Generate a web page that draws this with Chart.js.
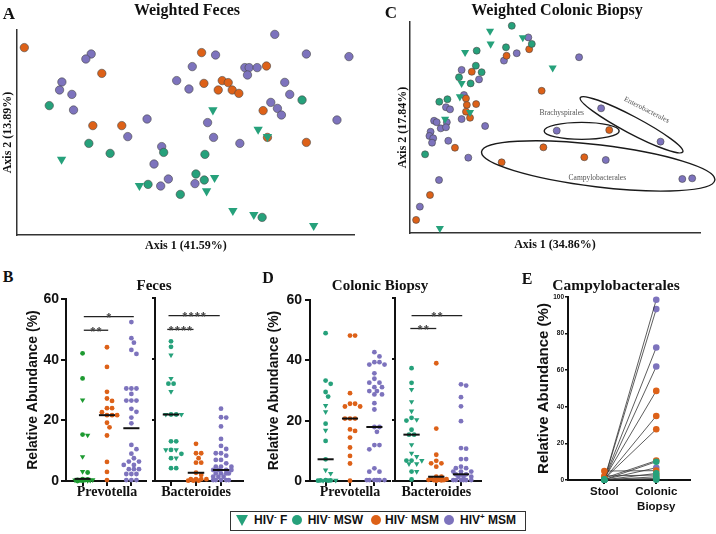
<!DOCTYPE html>
<html><head><meta charset="utf-8">
<script src="https://cdn.jsdelivr.net/npm/chart.js@4.4.1/dist/chart.umd.min.js"></script>
<style>
html,body{margin:0;padding:0;background:#fff;}
#root{position:relative;width:716px;height:534px;overflow:hidden;background:#fff;}
canvas{position:absolute;}
.t{position:absolute;white-space:nowrap;transform:translate(-50%,-50%);color:#111;line-height:1;}
.serif{font-family:"Liberation Serif","Times New Roman",serif;font-weight:bold;}
.sans{font-family:"Liberation Sans",Arial,sans-serif;font-weight:bold;}
#legend{position:absolute;left:230px;top:511px;width:294px;height:18px;border:1.6px solid #333;z-index:5;background:#fff;}
.lt{position:absolute;top:520px;transform:translateY(-50%);font-family:"Liberation Sans",Arial,sans-serif;font-weight:bold;font-size:12px;color:#111;white-space:nowrap;z-index:6;line-height:1;}
.lt sup{font-size:8px;vertical-align:5px;line-height:0;}
.dot{position:absolute;width:10px;height:10px;border-radius:50%;z-index:6;}
.tri{position:absolute;width:0;height:0;border-left:6px solid transparent;border-right:6px solid transparent;z-index:6;}
</style></head><body>
<div id="root">
  <canvas id="cA" width="360" height="255" style="left:0;top:0"></canvas>
  <canvas id="cC" width="356" height="255" style="left:360px;top:0"></canvas>
  <canvas id="cB1" width="150" height="210" style="left:0;top:290px"></canvas>
  <canvas id="cB2" width="100" height="210" style="left:150px;top:290px"></canvas>
  <canvas id="cD1" width="154" height="210" style="left:240px;top:290px"></canvas>
  <canvas id="cD2" width="95" height="210" style="left:390px;top:290px"></canvas>
  <canvas id="cE" width="210" height="230" style="left:490px;top:290px"></canvas>

  <div class="t serif" style="left:9px;top:12.5px;font-size:17px">A</div>
  <div class="t serif" style="left:187px;top:10px;font-size:16px">Weighted Feces</div>
  <div class="t serif" style="left:391px;top:11.5px;font-size:17px">C</div>
  <div class="t serif" style="left:557px;top:10px;font-size:16px">Weighted Colonic Biopsy</div>
  <div class="t serif" style="left:8px;top:277px;font-size:16px">B</div>
  <div class="t serif" style="left:154px;top:285px;font-size:15px">Feces</div>
  <div class="t serif" style="left:268px;top:277.5px;font-size:16px">D</div>
  <div class="t serif" style="left:380px;top:285px;font-size:15px">Colonic Biopsy</div>
  <div class="t serif" style="left:527px;top:278.5px;font-size:16px">E</div>
  <div class="t serif" style="left:616px;top:285px;font-size:15.5px">Campylobacterales</div>

  <div id="legend"></div>
  <div class="tri" style="left:235.7px;top:514.5px;border-top:11px solid #26a17b"></div>
  <div class="lt" style="left:254px">HIV<sup>-</sup> F</div>
  <div class="dot" style="left:291.7px;top:515px;background:#26a17b"></div>
  <div class="lt" style="left:307.7px">HIV<sup>-</sup> MSW</div>
  <div class="dot" style="left:370.7px;top:515px;background:#dd6118"></div>
  <div class="lt" style="left:385px">HIV<sup>-</sup> MSM</div>
  <div class="dot" style="left:443.7px;top:515px;background:#7d73bd"></div>
  <div class="lt" style="left:460px">HIV<sup>+</sup> MSM</div>
</div>
<script>
// ---------------- DATA ----------------
// Panel A: weighted UniFrac PCoA, feces (Axis 1, Axis 2 positions in relative units)
const fecesF   = [[58.9,62.5],[72.5,52.8],[75.3,49.2],[13.4,37.8],[36.8,24.7],[59.4,28.7],[57.0,22.0],[64.9,12.2],[71.2,10.2],[89.2,4.7]];
const fecesMSW = [[9.7,64.7],[85.7,67.5],[21.6,45.8],[28.0,40.8],[44.1,41.3],[56.5,40.3],[53.8,30.5],[56.3,27.5],[39.4,25.3],[49.1,20.3],[73.7,8.8]];
const fecesMSM = [[2.2,93.7],[55.5,91.2],[25.5,80.8],[56.2,75.8],[61.7,77.2],[63.5,76.2],[60.5,72.5],[64.7,72.5],[66.7,70.8],[75.0,84.5],[74.0,62.2],[22.8,54.7],[31.5,54.7],[75.3,48.8],[87.0,46.3]];
const fecesHIV = [[77.5,100.3],[87.0,90.5],[99.8,89.2],[59.7,90.0],[52.7,84.2],[22.3,90.5],[20.7,88.0],[13.5,76.5],[12.8,72.5],[16.5,70.3],[17.0,62.5],[48.0,77.2],[51.7,73.0],[68.5,83.7],[69.8,83.7],[72.2,83.7],[69.3,80.0],[80.5,76.3],[82.0,70.3],[76.3,66.3],[78.3,63.3],[79.5,60.0],[96.2,57.5],[57.3,56.2],[39.1,58.0],[33.3,49.2],[59.1,48.8],[67.0,45.8],[43.5,44.2],[41.2,35.5],[45.5,28.0],[43.2,24.5],[53.5,25.7]];

// Panel C: weighted UniFrac PCoA, colonic biopsy
const biopsyF   = [[27.6,95.7],[27.8,89.6],[38.9,92.6],[19.0,85.6],[17.8,70.9],[17.2,64.6],[20.7,57.2],[12.1,54.0],[49.2,78.3],[10.3,2.2]];
const biopsyMSW = [[35.1,98.2],[33.1,88.0],[42.0,89.6],[23.0,86.4],[22.7,79.3],[24.7,76.2],[16.9,73.8],[20.9,70.9],[12.9,63.4],[10.1,62.2],[5.2,37.3]];
const biopsyMSM = [[33.3,84.0],[41.1,87.1],[21.3,76.4],[19.6,60.7],[22.8,61.1],[19.3,57.5],[20.7,54.6],[19.3,63.8],[15.5,40.4],[45.4,67.4],[46.0,40.6],[68.7,48.8],[60.1,35.9],[31.6,33.5],[6.9,18.0],[2.1,6.2]];
const biopsyHIV = [[40.8,92.7],[36.8,85.2],[32.4,81.7],[17.8,77.3],[23.8,72.8],[18.6,65.4],[12.4,59.6],[13.8,58.6],[17.8,54.0],[8.3,53.2],[9.2,52.5],[12.7,52.5],[10.6,49.6],[12.4,50.1],[25.9,50.7],[7.1,48.0],[6.7,46.0],[8.0,44.9],[7.6,42.8],[13.2,43.7],[20.1,35.7],[58.3,83.3],[65.9,59.1],[50.6,48.5],[86.4,43.3],[67.5,34.6],[10.0,25.1],[3.4,12.5],[93.9,25.6],[97.3,25.9]];
const clusterNames = ['Enterobacterales','Brachyspirales','Campylobacterales'];
const clusterCenters = [[76.4,51.3],[59.2,48.4],[64.9,31.8]];
const clusterLabelPos = [[81.6,58.3],[52.3,56.7],[64.6,26.2]];

// Panels B and D: relative abundance (%)
const groupNames = ['Prevotella','Bacteroides'];
const fecesPrevF   = [26.7,15.1,8.0,3.1,0.4,0.3,0.2,0.1];
const fecesPrevMSW = [42.1,33.8,15.3,2.8,0.6,0.5,0.4,0.3,0.2,0.1,0];
const fecesPrevMSM = [44.1,37.6,29.4,27.2,26.4,24.0,24.0,22.7,21.7,21.7,21.7,19.2,17.7,15.0,6.3,3.0,0.3];
const fecesPrevHIV = [52.4,47.1,45.6,43.2,41.9,30.5,30.5,30.5,28.7,26.5,26.5,26.5,23.8,22.8,20.9,19.0,11.9,10.5,9.0,7.5,6.4,6.4,5.3,5.3,3.9,3.9,3.9,2.3,2.3,2.3,0.3,0.3,0.3];
const fecesBactF   = [41.3,33.6,29.3,21.8,21.8,10.2,10.2,7.5];
const fecesBactMSW = [45.8,44.0,31.9,31.9,21.8,21.8,13.0,13.0,10.2,8.9,7.5,4.2,4.2];
const fecesBactMSM = [12.2,9.1,9.1,7.5,6.0,6.0,2.7,2.0,0.6,0.6,0.6,0.6,0.1,0.1,0.1];
const fecesBactHIV = [23.7,20.9,20.8,17.9,13.8,11.5,10.5,9.1,9.1,8.3,6.9,6.9,5.8,4.7,4.7,4.7,3.6,3.6,3.6,3.6,2.5,2.5,2.5,2.5,1.4,1.4,1.4,0.3,0.3,0.3,0.3,0.3];
const biopsyPrevF   = [25.0,22.9,16.8,3.6,2.5,0.2,0.1];
const biopsyPrevMSW = [49.0,33.3,32.2,29.5,28.0,19.0,13.3,7.2,0.3,0.2,0.2,0.1,0.1];
const biopsyPrevMSM = [48.2,48.2,29.1,25.6,25.6,24.7,24.7,20.7,20.7,20.7,17.1,16.6,14.4,11.1,8.3,5.8,0.1];
const biopsyPrevHIV = [42.7,41.3,39.4,39.4,38.6,38.6,35.7,33.9,32.6,32.6,31.1,31.1,29.8,29.8,28.7,28.7,25.8,23.7,17.9,17.9,16.3,11.9,11.9,10.5,4.2,3.1,3.1,0.3,0.3,0.3,0.3,0.3,0.3];
const biopsyBactF   = [30.0,26.0,22.9,20.1,11.9,9.1,8.0,6.7,5.6,5.6,3.1];
const biopsyBactMSW = [37.0,32.2,20.7,19.8,16.8,15.2,15.2,6.7,6.7,3.1,0.5];
const biopsyBactMSM = [38.6,17.2,8.6,6.6,5.8,5.8,4.7,1.4,1.4,0.8,0.6,0.5,0.4,0.3,0.3,0.2,0.1];
const biopsyBactHIV = [31.7,31.3,27.5,24.5,19.6,10.8,10.6,7.2,7.2,4.7,4.2,4.2,3.1,3.1,3.1,2.2,2.2,2.2,1.4,1.4,1.4,0.3,0.3,0.3,0.3,0.3,0.3];
const mediansFecesPrev  = [0.7,21.7,17.4];
const mediansFecesBact  = [21.8,2.7,3.6];
const mediansBiopsyPrev = [7.2,20.7,17.9];
const mediansBiopsyBact = [15.2,1.4,2.2];
const abundanceTicks = [0,20,40,60];
// significance bars: [from column, to column, height (%), number of stars]
const sigFecesPrev  = [[1.05,3.1,54.2,1],[1.05,2.05,49.7,2]];
const sigFecesBact  = [[0.9,2.95,54.2,4],[0.85,1.9,49.7,4]];
const sigBiopsyPrev = [];
const sigBiopsyBact = [[1.0,3.05,54.2,2],[0.95,2.0,50.0,2]];

// Panel E: Campylobacterales relative abundance (%), paired stool vs biopsy
const campyCategories = ['Stool','Colonic Biopsy'];
const campyStool  = [0.3,0.2,0.5,0.3,0.8,0.4,0.6,1.0,0.2,0.3,4.9,0.1,2.2,0.1,0.1,0.1];
const campyBiopsy = [98.5,93.4,72.4,62.0,48.7,35.0,27.7,10.6,10.0,6.7,5.1,3.6,2.7,1.8,0.9,0.2];
const campyGroup  = ['HIV+ MSM','HIV+ MSM','HIV+ MSM','HIV+ MSM','HIV- MSM','HIV- MSM','HIV- MSM','HIV- MSM','HIV- MSW','HIV+ MSM','HIV- MSM','HIV- MSW','HIV- MSM','HIV- MSW','HIV- MSW','HIV- MSW'];
const campyTicks = [0,20,40,60,80,100];

// ---------------- STYLE ----------------
const SERIF = '"Liberation Serif","Times New Roman",serif';
const SANS = '"Liberation Sans",Arial,sans-serif';
const GREEN = '#26a17b', GREEN_B = '#1d9a31', ORANGE = '#dd6118', PURPLE = '#7d73bd';
const GROUP_COLOR = {'HIV- F':GREEN,'HIV- MSW':GREEN,'HIV- MSM':ORANGE,'HIV+ MSM':PURPLE};
Chart.defaults.font.family = SANS;
Chart.defaults.color = '#111';

const baseOpts = {responsive:false, animation:false, events:[], plugins:{legend:{display:false}, tooltip:{enabled:false}}};

// ---------------- PCoA PANELS ----------------
function pcoaSet(arr, color, tri, r){
  return {data: arr.map(([x,y])=>({x,y})), pointStyle: tri?'triangle':'circle', pointRotation: tri?180:0,
    pointRadius: tri? r+1.2 : r, pointBackgroundColor: color, pointBorderColor: tri? color : 'rgba(70,70,70,0.85)',
    pointBorderWidth: tri?0:0.7, clip:false};
}
function pcoaScales(xmax, ymax, xTitle, yTitle, yW, yPad, xH, xPad){
  const tf = {family:SERIF, weight:'bold', size:12};
  return {
    x:{type:'linear', min:0, max:xmax, ticks:{display:false}, grid:{display:false},
       border:{display:true, color:'#333', width:1.5},
       title:{display:true, text:xTitle, font:tf, color:'#111', padding:{top:0,bottom:xPad}},
       afterFit(s){ s.height = xH; }},
    y:{type:'linear', min:0, max:ymax, ticks:{display:false}, grid:{display:false},
       border:{display:true, color:'#333', width:1.5},
       title:{display:true, text:yTitle, font:tf, color:'#111', padding:{top:yPad,bottom:0}},
       afterFit(s){ s.width = yW; }}
  };
}
new Chart(document.getElementById('cA'), {
  type:'scatter',
  data:{datasets:[pcoaSet(fecesF,GREEN,true,4.2), pcoaSet(fecesMSW,GREEN,false,4.2), pcoaSet(fecesMSM,ORANGE,false,4.2), pcoaSet(fecesHIV,PURPLE,false,4.2)]},
  options:{...baseOpts, layout:{padding:{left:0,top:30,right:5,bottom:0}},
    scales: pcoaScales(101.5, 102.5, 'Axis 1 (41.59%)', 'Axis 2 (13.89%)', 17, 0.8, 20, 1.8)}
});

const clusterPlugin = {
  id:'clusters',
  afterDatasetsDraw(chart){
    const {ctx, scales:{x,y}} = chart;
    const shapes = [{a:58,b:8.5,ang:27.9},{a:37.5,b:8.5,ang:0},{a:117.5,b:21,ang:6.9}];
    ctx.save();
    ctx.strokeStyle = '#1a1a1a'; ctx.lineWidth = 1.4;
    clusterCenters.forEach(([cx,cy],i)=>{
      const s = shapes[i];
      ctx.beginPath();
      ctx.ellipse(x.getPixelForValue(cx), y.getPixelForValue(cy), s.a, s.b, s.ang*Math.PI/180, 0, Math.PI*2);
      ctx.stroke();
    });
    ctx.fillStyle = '#555'; ctx.font = '7.5px ' + SERIF; ctx.textAlign='center'; ctx.textBaseline='middle';
    clusterLabelPos.forEach(([lx,ly],i)=>{
      ctx.save();
      ctx.translate(x.getPixelForValue(lx), y.getPixelForValue(ly));
      if (i===0) ctx.rotate(27*Math.PI/180);
      ctx.fillText(clusterNames[i], 0, 0);
      ctx.restore();
    });
    ctx.restore();
  }
};
new Chart(document.getElementById('cC'), {
  type:'scatter',
  data:{datasets:[pcoaSet(biopsyF,GREEN,true,3.5), pcoaSet(biopsyMSW,GREEN,false,3.5), pcoaSet(biopsyMSM,ORANGE,false,3.5), pcoaSet(biopsyHIV,PURPLE,false,3.5)]},
  options:{...baseOpts, layout:{padding:{left:0,top:22,right:16,bottom:0}},
    scales: pcoaScales(100, 100, 'Axis 1 (34.86%)', 'Axis 2 (17.84%)', 50, 35.8, 22, 2.8)},
  plugins:[clusterPlugin]
});

// ---------------- STRIP PANELS (B, D) ----------------
const PX_Y = 183/60, PX_X = 25;
function swarm(groups){
  const all = [];
  groups.forEach((g,gi)=>g.values.forEach(v=>all.push({v,gi})));
  all.sort((a,b)=>b.v-a.v);
  const placed = []; const D = 5.2, step = D/2, MAXK = 7;
  all.forEach(p=>{
    const py = p.v*PX_Y;
    let best = 0, bestScore = -1;
    for (let k=0;k<=MAXK;k++){
      const c = (k===0?0:(k%2===1?(k+1)/2:-k/2))*step;
      let md = Infinity;
      placed.forEach(q=>{ md = Math.min(md, Math.hypot(q.x-c, q.y-py)); });
      if (md >= D){ best = c; bestScore = Infinity; break; }
      if (md > bestScore){ bestScore = md; best = c; }
    }
    placed.push({x:best, y:py}); p.off = best;
  });
  return all;
}
function columnSets(col, groups){
  const pts = swarm(groups);
  return groups.map((g,gi)=>({
    data: pts.filter(p=>p.gi===gi).map(p=>({x: col + p.off/PX_X, y: p.v})),
    pointStyle: g.tri?'triangle':'circle', pointRotation: g.tri?180:0,
    pointRadius: g.tri?3.1:2.4, pointBackgroundColor: g.color, pointBorderWidth:0, clip:false
  }));
}
function medianSets(medians){
  return medians.map((m,i)=>({data:[{x:i+1-0.33,y:m},{x:i+1+0.33,y:m}], showLine:true,
    borderColor:'#111', borderWidth:2, pointRadius:0, clip:false}));
}
const sigPlugin = {
  id:'sig',
  afterDatasetsDraw(chart, args, opts){
    const {ctx, scales:{x,y}} = chart;
    ctx.save();
    (opts.bars||[]).forEach(([a,b,h,n])=>{
      const x1 = x.getPixelForValue(a), x2 = x.getPixelForValue(b), yy = y.getPixelForValue(h);
      ctx.strokeStyle = '#222'; ctx.lineWidth = 1.3;
      ctx.beginPath(); ctx.moveTo(x1,yy); ctx.lineTo(x2,yy); ctx.stroke();
      ctx.fillStyle = '#444'; ctx.font = 'bold 12px ' + SANS; ctx.textAlign = 'center'; ctx.textBaseline = 'alphabetic';
      const cx = (x1+x2)/2;
      for (let i=0;i<n;i++) ctx.fillText('*', cx + (i-(n-1)/2)*6.2, yy + 5.5);
    });
    ctx.restore();
  }
};
function stripChart(id, cfg){
  const datasets = [...medianSets(cfg.medians)];
  cfg.cols.forEach((groups,ci)=>datasets.push(...columnSets(ci+1, groups)));
  const yScale = {type:'linear', min:0, max:60,
    afterBuildTicks(s){ s.ticks = abundanceTicks.map(v=>({value:v})); },
    grid:{drawOnChartArea:false, drawTicks:true, tickLength: cfg.main?5:3, color:'#111', lineWidth:2},
    border:{display:true, color:'#111', width:2},
    afterFit(s){ s.width = cfg.yW; }};
  if (cfg.main){
    yScale.ticks = {font:{family:SANS, weight:'bold', size:14, lineHeight:1}, color:'#111', padding:cfg.tickPad};
    yScale.title = {display:true, text:'Relative Abundance (%)', font:{family:SANS, weight:'bold', size:cfg.titleSize}, color:'#111', padding:{top:cfg.titlePad,bottom:0}};
  } else {
    yScale.ticks = {callback:()=>'' , padding:0};
  }
  new Chart(document.getElementById(id), {
    type:'scatter',
    data:{datasets},
    options:{...baseOpts, layout:{padding:{left:0, top:8, right:cfg.padR, bottom:0}},
      plugins:{...baseOpts.plugins, sig:{bars:cfg.sig}},
      scales:{
        x:{type:'linear', min:cfg.xmin, max:cfg.xmax,
           afterBuildTicks(s){ s.ticks = [1,2,3].map(v=>({value:v})); },
           ticks:{callback:(v)=> v===2 ? cfg.label : '', autoSkip:false, maxRotation:0,
                  font:{family:SERIF, weight:'bold', size:14, lineHeight:1}, color:'#111', padding:-1},
           grid:{drawOnChartArea:false, drawTicks:true, tickLength:5, color:'#111', lineWidth:2},
           border:{display:true, color:'#111', width:2},
           afterFit(s){ s.height = 19; }},
        y: yScale
      }},
    plugins:[sigPlugin]
  });
}
const tri = true;
stripChart('cB1', {main:true, yW:66, tickPad:2, titleSize:14, titlePad:25, padR:2, xmin:0.32, xmax:3.6, label:groupNames[0],
  medians:mediansFecesPrev, sig:sigFecesPrev,
  cols:[[{values:fecesPrevMSW,color:GREEN_B},{values:fecesPrevF,color:GREEN_B,tri}],
        [{values:fecesPrevMSM,color:ORANGE}],[{values:fecesPrevHIV,color:PURPLE}]]});
stripChart('cB2', {main:false, yW:5, padR:7, xmin:0.36, xmax:3.88, label:groupNames[1],
  medians:mediansFecesBact, sig:sigFecesBact,
  cols:[[{values:fecesBactMSW,color:GREEN},{values:fecesBactF,color:GREEN,tri}],
        [{values:fecesBactMSM,color:ORANGE}],[{values:fecesBactHIV,color:PURPLE}]]});
stripChart('cD1', {main:true, yW:70, tickPad:3, titleSize:14, titlePad:26, padR:2, xmin:0.36, xmax:3.64, label:groupNames[0],
  medians:mediansBiopsyPrev, sig:sigBiopsyPrev,
  cols:[[{values:biopsyPrevMSW,color:GREEN},{values:biopsyPrevF,color:GREEN,tri}],
        [{values:biopsyPrevMSM,color:ORANGE}],[{values:biopsyPrevHIV,color:PURPLE}]]});
stripChart('cD2', {main:false, yW:5, padR:3, xmin:0.33, xmax:3.81, label:groupNames[1],
  medians:mediansBiopsyBact, sig:sigBiopsyBact,
  cols:[[{values:biopsyBactMSW,color:GREEN},{values:biopsyBactF,color:GREEN,tri}],
        [{values:biopsyBactMSM,color:ORANGE}],[{values:biopsyBactHIV,color:PURPLE}]]});

// ---------------- PANEL E ----------------
const campyOrder = campyStool.map((_,i)=>i).sort((a,b)=>{
  const pr = g => g==='HIV- MSW'?0:(g==='HIV- MSM'?1:2);
  return pr(campyGroup[a]) - pr(campyGroup[b]);
});
const eSets = campyOrder.map(i=>({
  data:[{x:1,y:campyStool[i]},{x:2,y:campyBiopsy[i]}], showLine:true,
  borderColor:'#333', borderWidth:0.8, pointRadius:3.3, pointBackgroundColor:GROUP_COLOR[campyGroup[i]],
  pointBorderWidth:0, clip:false
}));
new Chart(document.getElementById('cE'), {
  type:'scatter',
  data:{datasets:eSets},
  options:{...baseOpts, layout:{padding:{left:0, top:7, right:10, bottom:0}},
    scales:{
      x:{type:'linear', min:0.30, max:2.65,
         afterBuildTicks(s){ s.ticks = [1,2].map(v=>({value:v})); },
         ticks:{callback:(v)=> campyCategories[v-1].split(' '), autoSkip:false, maxRotation:0,
                font:{family:SANS, weight:'bold', size:11.5, lineHeight:1.3}, color:'#111', padding:0.5},
         grid:{drawOnChartArea:false, drawTicks:true, tickLength:4, color:'#111', lineWidth:2},
         border:{display:true, color:'#111', width:2},
         afterFit(s){ s.height = 40; }},
      y:{type:'linear', min:0, max:100,
         afterBuildTicks(s){ s.ticks = campyTicks.map(v=>({value:v})); },
         ticks:{font:{family:SANS, weight:'bold', size:6.5, lineHeight:1}, color:'#111', padding:1},
         grid:{drawOnChartArea:false, drawTicks:true, tickLength:3, color:'#111', lineWidth:1.5},
         border:{display:true, color:'#111', width:2},
         title:{display:true, text:'Relative Abundance (%)', font:{family:SANS, weight:'bold', size:15}, color:'#111', padding:{top:45,bottom:0}},
         afterFit(s){ s.width = 78; }}
    }}
});
</script>
</body></html>
